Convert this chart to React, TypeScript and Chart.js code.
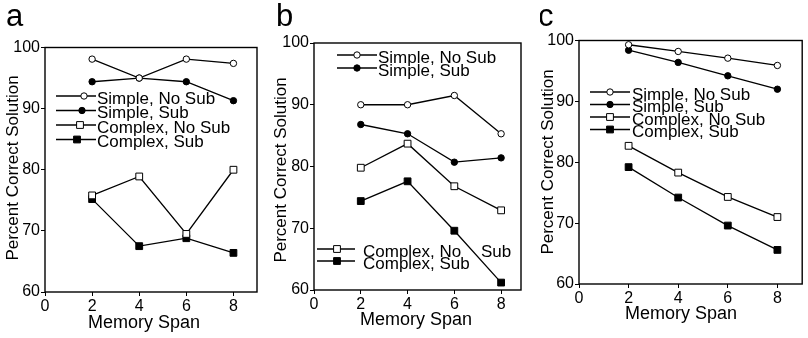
import React, { useEffect, useRef } from "react";
import { Chart, registerables } from "chart.js";

Chart.register(...registerables);

// ---------- data ----------
const memorySpan = [2, 4, 6, 8];
const xTickValues = [0, 2, 4, 6, 8];
const yTickValues = [60, 70, 80, 90, 100];
const seriesNames = ["Simple, No Sub", "Simple, Sub", "Complex, No Sub", "Complex, Sub"];

const panelA_simpleNoSub = [98.1, 95.0, 98.1, 97.4];
const panelA_simpleSub = [94.4, 95.0, 94.4, 91.3];
const panelA_complexNoSub = [75.8, 78.9, 69.5, 80.0];
const panelA_complexSub = [75.2, 67.5, 68.8, 66.4];

const panelB_simpleNoSub = [90.0, 90.0, 91.5, 85.3];
const panelB_simpleSub = [86.8, 85.3, 80.7, 81.4];
const panelB_complexNoSub = [79.8, 83.7, 76.8, 72.9];
const panelB_complexSub = [74.4, 77.6, 69.6, 61.2];

const panelC_simpleNoSub = [99.3, 98.2, 97.1, 95.9];
const panelC_simpleSub = [98.4, 96.4, 94.2, 92.0];
const panelC_complexNoSub = [82.7, 78.3, 74.3, 71.0];
const panelC_complexSub = [79.2, 74.2, 69.6, 65.6];

const panelLetters = ["a", "b", "c"];
const xTitle = "Memory Span";
const yTitle = "Percent Correct Solution";

// ---------- styles ----------
const FONT = '"Liberation Sans", Arial, Helvetica, sans-serif';
const LINE_W = 1.3;
const markerStyles = [
  { style: "circle", fill: "#ffffff", radius: 3.2 },
  { style: "circle", fill: "#000000", radius: 3.2 },
  { style: "rect", fill: "#ffffff", radius: 4.8 },
  { style: "rect", fill: "#000000", radius: 4.8 },
];

type LegendRow = { series: number; y: number; x1: number; x2: number; xm: number; xt: number; text?: string; extra?: { text: string; x: number } };

type PanelCfg = {
  letter: string;
  canvasLeft: number;
  width: number;
  plot: { L: number; R: number; T: number; B: number };
  xMax: number;
  series: number[][];
  legend: LegendRow[];
  letterPos: { x: number; y: number };
  yTitlePos: { x: number; y: number };
  xTitlePos: { x: number; y: number };
};

const HEIGHT = 338;

const panels: PanelCfg[] = [
  {
    letter: panelLetters[0],
    canvasLeft: 0,
    width: 270,
    plot: { L: 45, R: 257, T: 47.5, B: 292 },
    xMax: 9,
    series: [panelA_simpleNoSub, panelA_simpleSub, panelA_complexNoSub, panelA_complexSub],
    legend: [
      { series: 0, y: 96, x1: 56, x2: 96, xm: 84, xt: 97 },
      { series: 1, y: 110.5, x1: 56, x2: 96, xm: 82, xt: 97 },
      { series: 2, y: 125, x1: 56, x2: 96, xm: 80, xt: 97 },
      { series: 3, y: 139.5, x1: 56, x2: 96, xm: 77, xt: 97 },
    ],
    letterPos: { x: 6, y: 26 },
    yTitlePos: { x: 13, y: 168 },
    xTitlePos: { x: 144, y: 323 },
  },
  {
    letter: panelLetters[1],
    canvasLeft: 270,
    width: 270,
    plot: { L: 314, R: 521, T: 43, B: 290 },
    xMax: 8.85,
    series: [panelB_simpleNoSub, panelB_simpleSub, panelB_complexNoSub, panelB_complexSub],
    legend: [
      { series: 0, y: 55, x1: 337, x2: 377, xm: 357, xt: 378 },
      { series: 1, y: 68, x1: 337, x2: 377, xm: 357, xt: 378 },
      { series: 2, y: 249, x1: 317, x2: 355, xm: 337, xt: 363, text: "Complex, No", extra: { text: "Sub", x: 481 } },
      { series: 3, y: 261, x1: 317, x2: 355, xm: 337, xt: 363 },
    ],
    letterPos: { x: 276, y: 26 },
    yTitlePos: { x: 281, y: 170 },
    xTitlePos: { x: 416, y: 320 },
  },
  {
    letter: panelLetters[2],
    canvasLeft: 540,
    width: 268,
    plot: { L: 579, R: 803, T: 40.5, B: 284 },
    xMax: 9,
    series: [panelC_simpleNoSub, panelC_simpleSub, panelC_complexNoSub, panelC_complexSub],
    legend: [
      { series: 0, y: 92, x1: 590, x2: 630, xm: 610, xt: 632 },
      { series: 1, y: 104.5, x1: 590, x2: 630, xm: 610, xt: 632 },
      { series: 2, y: 117, x1: 590, x2: 630, xm: 610, xt: 632 },
      { series: 3, y: 129.5, x1: 590, x2: 630, xm: 610, xt: 632 },
    ],
    letterPos: { x: 538, y: 26 },
    yTitlePos: { x: 548, y: 162 },
    xTitlePos: { x: 681, y: 314 },
  },
];

function drawMarker(ctx: CanvasRenderingContext2D, series: number, x: number, y: number) {
  const m = markerStyles[series];
  ctx.save();
  ctx.lineWidth = 1;
  ctx.strokeStyle = "#000";
  ctx.fillStyle = m.fill;
  ctx.beginPath();
  if (m.style === "circle") {
    ctx.arc(x, y, m.radius, 0, Math.PI * 2);
  } else {
    const s = Math.SQRT1_2 * m.radius;
    ctx.rect(x - s, y - s, 2 * s, 2 * s);
  }
  ctx.fill();
  ctx.stroke();
  ctx.restore();
}

function makeDecorPlugin(cfg: PanelCfg) {
  return {
    id: "decor" + cfg.letter,
    beforeDatasetsDraw(chart: any) {
      const { ctx, chartArea } = chart;
      ctx.save();
      ctx.strokeStyle = "#000";
      ctx.lineWidth = 1.4;
      ctx.strokeRect(chartArea.left, chartArea.top, chartArea.right - chartArea.left, chartArea.bottom - chartArea.top);
      ctx.restore();
    },
    afterDraw(chart: any) {
      const ctx: CanvasRenderingContext2D = chart.ctx;
      const ox = cfg.canvasLeft;
      ctx.save();
      ctx.fillStyle = "#000";
      // panel letter
      ctx.font = `31px ${FONT}`;
      ctx.textAlign = "left";
      ctx.textBaseline = "alphabetic";
      ctx.fillText(cfg.letter, cfg.letterPos.x - ox, cfg.letterPos.y);
      // x title
      ctx.font = `18px ${FONT}`;
      ctx.textAlign = "center";
      ctx.textBaseline = "middle";
      ctx.fillText(xTitle, cfg.xTitlePos.x - ox, cfg.xTitlePos.y);
      // y title
      ctx.save();
      ctx.font = `17px ${FONT}`;
      ctx.translate(cfg.yTitlePos.x - ox, cfg.yTitlePos.y);
      ctx.rotate(-Math.PI / 2);
      ctx.textAlign = "center";
      ctx.textBaseline = "middle";
      ctx.fillText(yTitle, 0, 0);
      ctx.restore();
      // legend
      for (const row of cfg.legend) {
        ctx.strokeStyle = "#000";
        ctx.lineWidth = LINE_W;
        ctx.beginPath();
        ctx.moveTo(row.x1 - ox, row.y);
        ctx.lineTo(row.x2 - ox, row.y);
        ctx.stroke();
        drawMarker(ctx, row.series, row.xm - ox, row.y);
        ctx.fillStyle = "#000";
        ctx.font = `17px ${FONT}`;
        ctx.textAlign = "left";
        ctx.textBaseline = "alphabetic";
        const label = row.text ?? seriesNames[row.series];
        ctx.fillText(label, row.xt - ox, row.y + 7.5);
        if (row.extra) ctx.fillText(row.extra.text, row.extra.x - ox, row.y + 7.5);
      }
      ctx.restore();
    },
  };
}

function Panel({ cfg }: { cfg: PanelCfg }) {
  const ref = useRef<HTMLCanvasElement | null>(null);
  useEffect(() => {
    if (!ref.current) return;
    const L = cfg.plot.L - cfg.canvasLeft;
    const R = cfg.plot.R - cfg.canvasLeft;
    const chart = new Chart(ref.current, {
      type: "line",
      data: {
        datasets: cfg.series.map((vals, i) => ({
          label: seriesNames[i],
          data: memorySpan.map((x, j) => ({ x, y: vals[j] })),
          borderColor: "#000",
          borderWidth: LINE_W,
          pointStyle: markerStyles[i].style as any,
          pointRadius: markerStyles[i].radius,
          pointBorderWidth: 1,
          pointBorderColor: "#000",
          pointBackgroundColor: markerStyles[i].fill,
          fill: false,
          tension: 0,
        })),
      },
      options: {
        responsive: false,
        animation: false,
        devicePixelRatio: 1,
        layout: { padding: { left: 0, right: cfg.width - R, top: cfg.plot.T, bottom: 0 } },
        plugins: { legend: { display: false }, tooltip: { enabled: false }, title: { display: false } },
        scales: {
          x: {
            type: "linear",
            min: 0,
            max: cfg.xMax,
            afterBuildTicks: (s: any) => {
              s.ticks = xTickValues.map((v) => ({ value: v }));
            },
            afterFit: (s: any) => {
              s.height = HEIGHT - cfg.plot.B;
            },
            grid: { drawOnChartArea: false, drawTicks: true, tickLength: 4, color: "#000", lineWidth: 1 },
            border: { display: false },
            ticks: { color: "#000", font: { family: FONT, size: 16 }, padding: 1, maxRotation: 0, autoSkip: false },
          },
          y: {
            type: "linear",
            min: 60,
            max: 100,
            afterBuildTicks: (s: any) => {
              s.ticks = yTickValues.map((v) => ({ value: v }));
            },
            afterFit: (s: any) => {
              s.width = L;
            },
            grid: { drawOnChartArea: false, drawTicks: true, tickLength: 4, color: "#000", lineWidth: 1 },
            border: { display: false },
            ticks: { color: "#000", font: { family: FONT, size: 16 }, padding: 1, autoSkip: false },
          },
        },
      },
      plugins: [makeDecorPlugin(cfg)],
    });
    return () => chart.destroy();
  }, [cfg]);
  return (
    <canvas
      ref={ref}
      width={cfg.width}
      height={HEIGHT}
      style={{ position: "absolute", left: cfg.canvasLeft, top: 0, width: cfg.width, height: HEIGHT }}
    />
  );
}

export default function App() {
  return (
    <div style={{ position: "absolute", left: 0, top: 0, width: 808, height: HEIGHT, background: "#fff", overflow: "hidden" }}>
      {panels.map((p) => (
        <Panel key={p.letter} cfg={p} />
      ))}
    </div>
  );
}
